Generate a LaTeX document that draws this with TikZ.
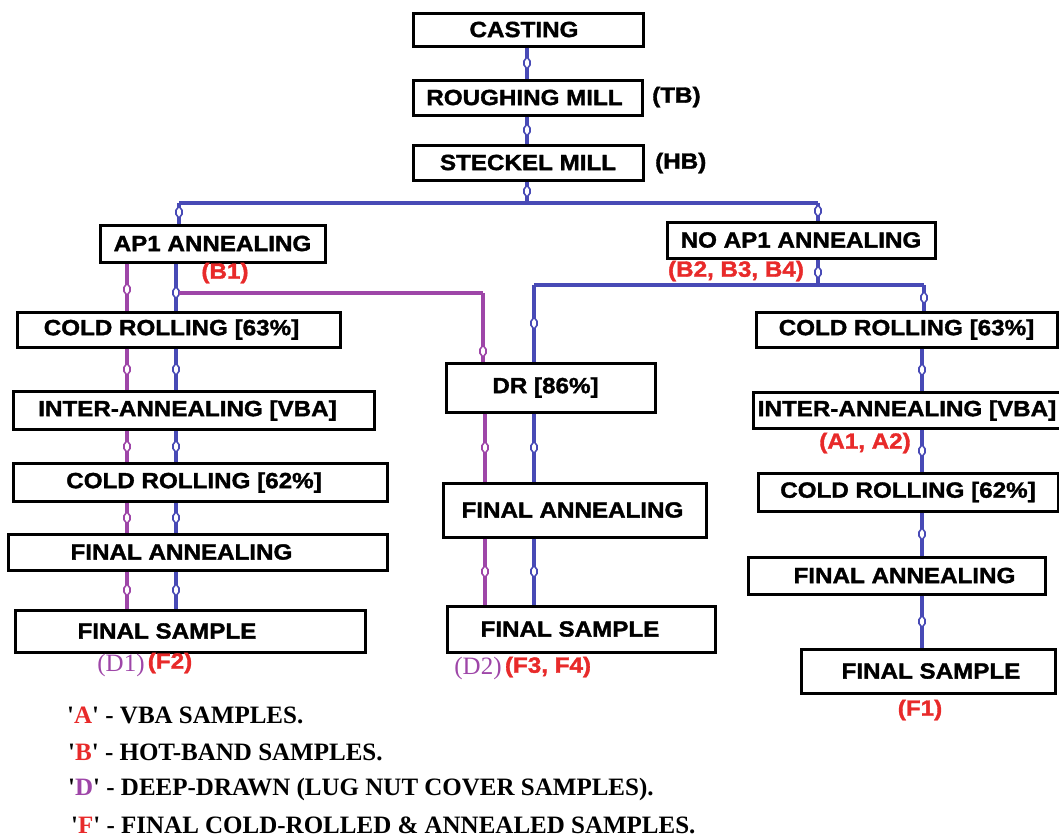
\documentclass[tikz,border=0pt]{standalone}
\usepackage{fontspec}
\setmainfont{Liberation Serif}
\newfontfamily\boxfont{Liberation Sans}[FakeStretch=1.1, BoldFeatures={FakeBold=1.6}]
\usetikzlibrary{decorations.markings}
\definecolor{lnblue}{RGB}{72,74,182}
\definecolor{lnpurple}{RGB}{158,70,168}
\definecolor{lbred}{RGB}{232,42,42}
\tikzset{
  box/.style={draw=black, line width=3pt, fill=white, inner sep=0pt,
    font=\boxfont\bfseries\fontsize{22}{26}\selectfont},
  lbl/.style={inner sep=0pt, font=\boxfont\bfseries\fontsize{22}{26}\selectfont},
  redlbl/.style={lbl, text=lbred},
  serlbl/.style={inner sep=0pt, font=\fontsize{25}{29}\selectfont},
  legend/.style={inner sep=0pt, anchor=west, font=\bfseries\fontsize{25}{29}\selectfont},
  bline/.style={draw=lnblue, line width=3.8pt},
  pline/.style={draw=lnpurple, line width=3.8pt},
  bmk/.style={bline, postaction={decorate}, decoration={markings,
    mark=at position #1 with {\draw[lnblue, line width=1.6pt, fill=white] (-6pt,0) -- (-2pt,3pt) -- (2pt,3pt) -- (6pt,0) -- (2pt,-3pt) -- (-2pt,-3pt) -- cycle;}}},
  bmk/.default=0.5,
  pmk/.style={pline, postaction={decorate}, decoration={markings,
    mark=at position #1 with {\draw[lnpurple, line width=1.6pt, fill=white] (-6pt,0) -- (-2pt,3pt) -- (2pt,3pt) -- (6pt,0) -- (2pt,-3pt) -- (-2pt,-3pt) -- cycle;}}},
  pmk/.default=0.5,
}
\newcommand{\bx}[1]{\hspace*{#1pt}}
\begin{document}
\begin{tikzpicture}[x=1pt,y=-1pt]
\useasboundingbox (0,0) rectangle (1059,839);
% column coordinates
\coordinate (C) at (527,0);
\coordinate (LP) at (127,0);
\coordinate (LB) at (176,0);
\coordinate (MP) at (485,0);
\coordinate (MB) at (534,0);
\coordinate (RB) at (922,0);
% junctions
\coordinate (j1) at (527,203);
\coordinate (hL) at (179,203);
\coordinate (hR) at (818,203);
\coordinate (pj) at (179,293);
\coordinate (pk) at (483,293);
\coordinate (n1) at (818,285);
\coordinate (nL) at (534,285);
\coordinate (nR) at (924,285);

% top boxes
\node[box, minimum width=230pt, minimum height=33pt] (cast) at (528,29.5) {CASTING\bx{8}};
\node[box, minimum width=229pt, minimum height=35pt] (rough) at (527.5,97.5) {ROUGHING MILL\bx{6}};
\node[box, minimum width=230pt, minimum height=35pt] (steck) at (528,162.5) {STECKEL MILL};
\node[lbl, anchor=west] (tb) at (652,97) {(TB)};
\node[lbl, anchor=west] (hb) at (655,163) {(HB)};

\node[box, minimum width=225pt, minimum height=37pt] (ap1) at (212.5,243.5) {AP1 ANNEALING};
\node[box, minimum width=268pt, minimum height=36pt] (noap1) at (801,240) {NO AP1 ANNEALING};
\node[redlbl] (b1) at (225,273) {(B1)};
\node[redlbl] (b234) at (736,271) {(B2, B3, B4)};

% left column
\node[box, minimum width=323pt, minimum height=35pt] (lcr1) at (178.5,329.5) {COLD ROLLING [63\%]\bx{14}};
\node[box, minimum width=361pt, minimum height=38pt] (lia) at (193.5,410.5) {INTER-ANNEALING [VBA]\bx{12}};
\node[box, minimum width=374pt, minimum height=38pt] (lcr2) at (200,482.5) {COLD ROLLING [62\%]\bx{12}};
\node[box, minimum width=379pt, minimum height=36pt] (lfa) at (197.5,552) {FINAL ANNEALING\bx{32}};
\node[box, minimum width=350pt, minimum height=42pt] (lfs) at (190,631) {FINAL SAMPLE\bx{46}};
\node[serlbl, text=lnpurple] (d1) at (121,665) {(D1)};
\node[redlbl] (f2) at (170,663) {(F2)};

% middle column
\node[box, minimum width=209pt, minimum height=49pt] (dr) at (550.5,387.5) {DR [86\%]\bx{10}};
\node[box, minimum width=263pt, minimum height=54pt] (mfa) at (574.5,510) {FINAL ANNEALING\bx{4}};
\node[box, minimum width=268pt, minimum height=46pt] (mfs) at (581,629) {FINAL SAMPLE\bx{22}};
\node[serlbl, text=lnpurple] (d2) at (478,668) {(D2)};
\node[redlbl] (f34) at (548,667) {(F3, F4)};

% right column
\node[box, minimum width=301pt, minimum height=35pt] (rcr1) at (906.5,329.5) {COLD ROLLING [63\%]};
\node[box, minimum width=308pt, minimum height=36pt] (ria) at (907,410.5) {INTER-ANNEALING [VBA]};
\node[box, minimum width=300pt, minimum height=38pt] (rcr2) at (908,492) {COLD ROLLING [62\%]};
\node[box, minimum width=297pt, minimum height=37pt] (rfa) at (896.5,575.5) {\bx{16}FINAL ANNEALING};
\node[box, minimum width=254pt, minimum height=44pt] (rfs) at (928,671) {\bx{6}FINAL SAMPLE};
\node[redlbl] (a12) at (865,443) {(A1, A2)};
\node[redlbl] (f1) at (920,710) {(F1)};

% connectors: trunk
\draw[bmk] (cast.south -| C) -- (rough.north -| C);
\draw[bmk] (rough.south -| C) -- (steck.north -| C);
\draw[bmk=0.45] (steck.south -| C) -- (j1);
\draw[bline] (hL) -- (hR);
\draw[bmk=0.45] (hL) -- (ap1.north -| hL);
\draw[bmk=0.45] (hR) -- (noap1.north -| hR);

% from AP1
\draw[pmk=0.55] (ap1.south -| LP) -- (lcr1.north -| LP);
\draw[bmk=0.62] (ap1.south -| LB) -- (lcr1.north -| LB);
\draw[pline] (pj) -- (pk);
\draw[pmk=0.85] (pk) -- (dr.north -| pk);

% from NO AP1
\draw[bmk=0.5] (noap1.south -| n1) -- (n1);
\draw[bline] (nL) -- (nR);
\draw[bmk=0.5] (nL) -- (dr.north -| nL);
\draw[bmk=0.5] (nR) -- (rcr1.north -| nR);

% left column
\draw[pmk] (lcr1.south -| LP) -- (lia.north -| LP);
\draw[bmk] (lcr1.south -| LB) -- (lia.north -| LB);
\draw[pmk] (lia.south -| LP) -- (lcr2.north -| LP);
\draw[bmk] (lia.south -| LB) -- (lcr2.north -| LB);
\draw[pmk] (lcr2.south -| LP) -- (lfa.north -| LP);
\draw[bmk] (lcr2.south -| LB) -- (lfa.north -| LB);
\draw[pmk] (lfa.south -| LP) -- (lfs.north -| LP);
\draw[bmk] (lfa.south -| LB) -- (lfs.north -| LB);

% middle column
\draw[pmk] (dr.south -| MP) -- (mfa.north -| MP);
\draw[bmk] (dr.south -| MB) -- (mfa.north -| MB);
\draw[pmk] (mfa.south -| MP) -- (mfs.north -| MP);
\draw[bmk] (mfa.south -| MB) -- (mfs.north -| MB);

% right column
\draw[bmk] (rcr1.south -| RB) -- (ria.north -| RB);
\draw[bmk] (ria.south -| RB) -- (rcr2.north -| RB);
\draw[bmk] (rcr2.south -| RB) -- (rfa.north -| RB);
\draw[bmk] (rfa.south -| RB) -- (rfs.north -| RB);

% legend
\node[legend] (la) at (67,715) {\textquotesingle\textcolor{lbred}{A}\textquotesingle{} - VBA SAMPLES.};
\node[legend] (lb) at (68,752) {\textquotesingle\textcolor{lbred}{B}\textquotesingle{} - HOT-BAND SAMPLES.};
\node[legend] (ld) at (68,789) {\textquotesingle\textcolor{lnpurple}{D}\textquotesingle{} - DEEP-DRAWN (LUG NUT COVER SAMPLES).};
\node[legend] (lf) at (71,825) {\textquotesingle\textcolor{lbred}{F}\textquotesingle{} - FINAL COLD-ROLLED \& ANNEALED SAMPLES.};
\end{tikzpicture}
\end{document}
